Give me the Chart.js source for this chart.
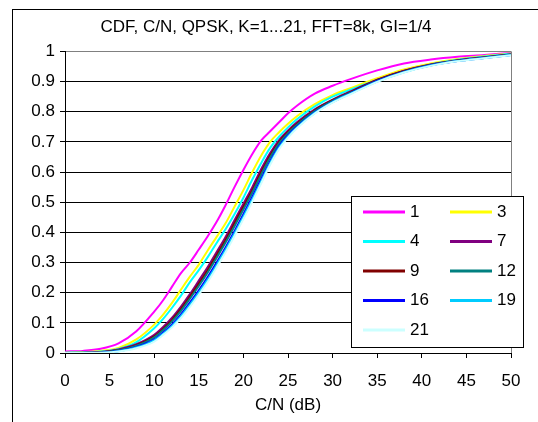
<!DOCTYPE html>
<html lang="en">
<head>
<meta charset="UTF-8">
<title>CDF, C/N, QPSK</title>
<script src="https://cdn.jsdelivr.net/npm/chart.js"></script>
<style>
  html, body { margin: 0; padding: 0; background: #fff; }
  #cdfChart { display: block; }
</style>
</head>
<body>
<canvas id="cdfChart" width="538" height="422"></canvas>
<script>
// C/N (dB) sample points, shared by all series
const cnValues = [0, 2, 4, 6, 8, 10, 11, 12, 13, 14, 15, 16, 17, 18, 19, 20, 21, 22, 23, 24, 25, 26, 28, 30, 32, 35, 38, 41, 44, 47, 50];

// CDF values, one array per K
const k1  = [0.005, 0.007, 0.014, 0.032, 0.072, 0.137, 0.175, 0.22, 0.265, 0.30, 0.343, 0.387, 0.435, 0.49, 0.55, 0.607, 0.66, 0.705, 0.735, 0.765, 0.795, 0.82, 0.86, 0.886, 0.908, 0.937, 0.96, 0.973, 0.982, 0.988, 0.995];
const k3  = [0.001, 0.003, 0.007, 0.017, 0.045, 0.094, 0.127, 0.166, 0.21, 0.253, 0.293, 0.34, 0.385, 0.43, 0.485, 0.54, 0.60, 0.655, 0.70, 0.732, 0.76, 0.785, 0.825, 0.855, 0.878, 0.911, 0.94, 0.96, 0.975, 0.985, 0.993];
const k4  = [0.001, 0.002, 0.005, 0.013, 0.036, 0.082, 0.113, 0.15, 0.19, 0.235, 0.275, 0.318, 0.365, 0.41, 0.46, 0.515, 0.575, 0.63, 0.68, 0.717, 0.748, 0.775, 0.818, 0.85, 0.873, 0.905, 0.935, 0.957, 0.972, 0.983, 0.992];
const k7  = [0, 0.001, 0.003, 0.012, 0.029, 0.06, 0.086, 0.117, 0.154, 0.195, 0.24, 0.285, 0.335, 0.385, 0.44, 0.495, 0.55, 0.61, 0.663, 0.706, 0.738, 0.765, 0.808, 0.84, 0.867, 0.906, 0.936, 0.957, 0.971, 0.981, 0.99];
const k9  = [0, 0, 0.002, 0.01, 0.026, 0.055, 0.08, 0.11, 0.146, 0.187, 0.23, 0.275, 0.325, 0.375, 0.43, 0.485, 0.54, 0.60, 0.655, 0.70, 0.733, 0.76, 0.805, 0.838, 0.865, 0.905, 0.935, 0.956, 0.97, 0.98, 0.99];
const k12 = [0, 0, 0.002, 0.009, 0.024, 0.052, 0.076, 0.105, 0.14, 0.18, 0.222, 0.267, 0.316, 0.366, 0.42, 0.476, 0.532, 0.592, 0.648, 0.695, 0.729, 0.757, 0.802, 0.836, 0.863, 0.903, 0.933, 0.955, 0.969, 0.979, 0.989];
const k16 = [0, 0, 0.001, 0.007, 0.02, 0.045, 0.068, 0.095, 0.128, 0.167, 0.208, 0.252, 0.3, 0.35, 0.404, 0.46, 0.518, 0.578, 0.636, 0.686, 0.722, 0.751, 0.798, 0.833, 0.861, 0.902, 0.932, 0.954, 0.968, 0.978, 0.988];
const k19 = [0, 0, 0.001, 0.006, 0.018, 0.042, 0.064, 0.09, 0.122, 0.16, 0.2, 0.244, 0.292, 0.342, 0.396, 0.452, 0.51, 0.57, 0.63, 0.681, 0.718, 0.748, 0.796, 0.832, 0.86, 0.9, 0.931, 0.953, 0.968, 0.978, 0.988];
const k21 = [0, 0, 0.001, 0.005, 0.016, 0.038, 0.06, 0.085, 0.116, 0.153, 0.193, 0.236, 0.284, 0.334, 0.388, 0.444, 0.502, 0.563, 0.624, 0.676, 0.714, 0.745, 0.794, 0.83, 0.858, 0.899, 0.93, 0.952, 0.967, 0.977, 0.987];

const seriesLabels = ['1', '3', '4', '7', '9', '12', '16', '19', '21'];
const seriesValues = [k1, k3, k4, k7, k9, k12, k16, k19, k21];
const seriesColors = ['#FF00FF', '#FFFF00', '#00FFFF', '#800080', '#800000', '#008080', '#0000FF', '#00CCFF', '#CCFFFF'];

const xTickValues = [0, 5, 10, 15, 20, 25, 30, 35, 40, 45, 50];
const yTickValues = [0, 0.1, 0.2, 0.3, 0.4, 0.5, 0.6, 0.7, 0.8, 0.9, 1];
const yTickLabels = ['0', '0.1', '0.2', '0.3', '0.4', '0.5', '0.6', '0.7', '0.8', '0.9', '1'];

const chartTitle = 'CDF, C/N, QPSK, K=1...21, FFT=8k, GI=1/4';
const xAxisTitle = 'C/N (dB)';

const FONT = '"Liberation Sans", Arial, sans-serif';
Chart.defaults.font.family = FONT;
Chart.defaults.font.size = 17;
Chart.defaults.color = '#000';

// white page + the outer frame (only left and top edges show)
const frame = {
    id: 'frame',
    beforeDraw(chart) {
        const ctx = chart.ctx;
        ctx.save();
        ctx.fillStyle = '#fff';
        ctx.fillRect(0, 0, chart.width, chart.height);
        ctx.strokeStyle = '#000';
        ctx.lineWidth = 1;
        ctx.strokeRect(12.5, 9.5, 800, 800);
        ctx.restore();
    }
};

// two-column legend box sitting inside the plot, like the Excel one
const legendBox = {
    id: 'legendBox',
    afterDraw(chart) {
        const ctx = chart.ctx;
        const left = 351, top = 196, width = 172, height = 151;
        ctx.save();
        ctx.fillStyle = '#fff';
        ctx.fillRect(left, top, width, height);
        ctx.strokeStyle = '#000';
        ctx.lineWidth = 1;
        ctx.strokeRect(left + 0.5, top + 0.5, width, height);
        ctx.font = '17px ' + FONT;
        ctx.textBaseline = 'middle';
        chart.data.datasets.forEach((ds, i) => {
            const x = left + 12 + (i % 2) * 87;
            const y = top + 16 + Math.floor(i / 2) * 29.5;
            ctx.strokeStyle = ds.borderColor;
            ctx.lineWidth = 3;
            ctx.beginPath();
            ctx.moveTo(x, y);
            ctx.lineTo(x + 42, y);
            ctx.stroke();
            ctx.fillStyle = '#000';
            ctx.fillText(ds.label, x + 47, y);
        });
        ctx.restore();
    }
};

const datasets = seriesLabels.map((label, i) => ({
    label: label,
    data: cnValues.map((x, j) => ({ x: x, y: seriesValues[i][j] })),
    borderColor: seriesColors[i],
    backgroundColor: seriesColors[i],
    borderWidth: 2,
    pointRadius: 0,
    cubicInterpolationMode: 'monotone',
    order: seriesLabels.length - i   // later K drawn on top
}));

new Chart(document.getElementById('cdfChart'), {
    type: 'line',
    data: { datasets: datasets },
    plugins: [frame, legendBox],
    options: {
        responsive: false,
        animation: false,
        devicePixelRatio: 1,
        layout: { padding: { top: 0, left: 21, right: 27, bottom: 0 } },
        plugins: {
            legend: { display: false },
            tooltip: { enabled: false },
            title: {
                display: true,
                text: chartTitle,
                color: '#000',
                font: { size: 17, weight: 'normal' },
                padding: { top: 17, bottom: 14 }
            }
        },
        scales: {
            x: {
                type: 'linear',
                min: 0,
                max: 50,
                afterBuildTicks: (scale) => { scale.ticks = xTickValues.map(v => ({ value: v })); },
                afterFit: (scale) => { scale.height = 69; },
                ticks: { padding: 13, maxRotation: 0, autoSkip: false },
                grid: {
                    color: (c) => c.tick && c.tick.value === 50 ? '#808080' : 'rgba(0,0,0,0)',
                    tickColor: '#000',
                    tickLength: 5
                },
                border: { color: '#000', width: 1 },
                title: {
                    display: true,
                    text: xAxisTitle,
                    color: '#000',
                    font: { size: 17 },
                    padding: { top: 0, bottom: 6 }
                }
            },
            y: {
                min: 0,
                max: 1,
                afterBuildTicks: (scale) => { scale.ticks = yTickValues.map(v => ({ value: v })); },
                afterFit: (scale) => { scale.width = 44; },
                ticks: {
                    padding: 5,
                    autoSkip: false,
                    callback: (value, index) => yTickLabels[index]
                },
                grid: {
                    color: (c) => c.tick && c.tick.value === 1 ? '#808080' : '#000',
                    tickColor: '#000',
                    tickLength: 5
                },
                border: { color: '#000', width: 1 }
            }
        }
    }
});
</script>
</body>
</html>
